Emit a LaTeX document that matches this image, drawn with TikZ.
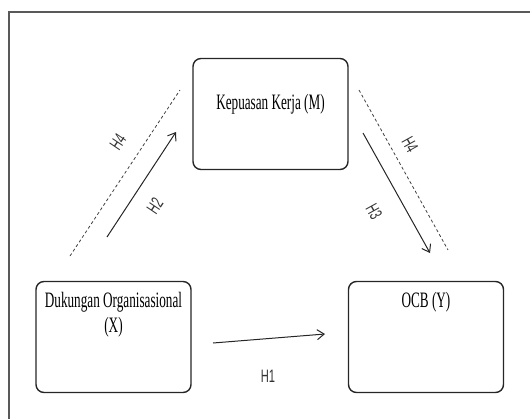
\documentclass[tikz,border=0pt]{standalone}
\usepackage{fontspec}
\setmainfont{Liberation Serif}
\newfontfamily\hlabelfont{Liberation Sans}
\usepackage{graphicx}
\usepackage{tikz}
\usetikzlibrary{
  positioning,
  calc,
  arrows.meta
}
% 横に詰めた文字
\newcommand{\narrowtxt}[1]{\scalebox{0.6}[1]{#1}}

\begin{document}
\begin{tikzpicture}[x=1pt, y=-1pt,
    varbox/.style={draw=black!85, line width=1.4pt, rounded corners=8pt, minimum width=155pt, minimum height=111pt, inner sep=0pt},
    vartext/.style={font=\fontsize{22}{24}\selectfont, inner sep=0pt, align=center},
    hyp/.style={font=\hlabelfont\fontsize{18}{20}\selectfont, text=black!80, inner sep=0pt, xscale=0.62, transform shape},
    path/.style={draw=black!85, line width=1pt, -{Straight Barb[length=7pt, width=10pt]}},
    mediate/.style={draw=black!75, line width=0.8pt, dash pattern=on 3pt off 2.5pt}
  ]
      \useasboundingbox (0,0) rectangle (530,418);
      % 外枠 (上と左だけ見える)
      \draw[black!65, line width=2pt] (8.5,430) -- (8.5,11.5) -- (545,11.5);

      % 変数の箱
      \node[varbox] (M) at (270.5,114) {};
      \node[varbox] (X) at (113.5,337) {};
      \node[varbox] (Y) at (426,337) {};

      % 箱の中の文字
      \node[vartext, anchor=base] (Mtext) at ([yshift=-52pt]M.north) {\narrowtxt{Kepuasan Kerja (M)}};
      \node[vartext, anchor=base] (Xtext) at ([yshift=-27pt]X.north) {\narrowtxt{Dukungan Organisasional}};
      \node[vartext, anchor=base, below=9pt of Xtext.base] (Xtext2) {\narrowtxt{(X)}};
      \node[vartext, anchor=base] (Ytext) at ([yshift=-27pt]Y.north) {\narrowtxt{OCB (Y)}};

      % 矢印の端点
      \coordinate (H1s) at (213,343);
      \coordinate (H1e) at (325,334);
      \coordinate (H2s) at (107,237);
      \coordinate (H2e) at (176,132);
      \coordinate (H3s) at (363,133);
      \coordinate (H3e) at (430,253);
      \coordinate (H4a) at (70,256);
      \coordinate (H4b) at (180,90);
      \coordinate (H4c) at (359,90);
      \coordinate (H4d) at (448,250);

      % X から Y への矢印
      \draw[path] (H1s) -- (H1e);
      % X から M への矢印
      \draw[path] (H2s) -- (H2e);
      % M から Y への矢印
      \draw[path] (H3s) -- (H3e);
      % 媒介効果の点線
      \draw[mediate] (H4a) -- (H4b);
      \draw[mediate] (H4c) -- (H4d);

      % 仮説のラベル
      \node[hyp] (lH1) at (268,376) {H1};
      \node[rotate=56, hyp] (lH2) at (155,206) {H2};
      \node[rotate=-61, hyp] (lH3) at (374,212) {H3};
      \node[rotate=56, hyp] (lH4a) at (118,142) {H4};
      \node[rotate=-61, hyp] (lH4b) at (410,145) {H4};
\end{tikzpicture}
\end{document}
